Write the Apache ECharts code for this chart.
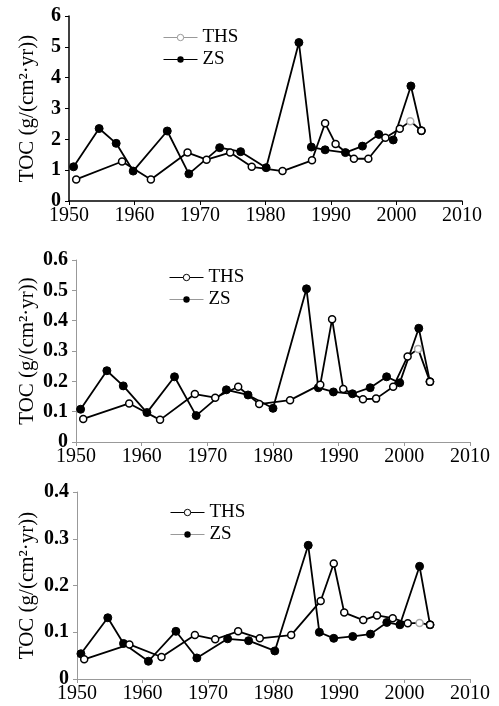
<!DOCTYPE html>
<html>
<head>
<meta charset="utf-8">
<script src="https://cdn.jsdelivr.net/npm/echarts@6/dist/echarts.min.js"></script>
<style>
  html, body { margin: 0; padding: 0; background: #fff; }
  #main { width: 499px; height: 706px; }
</style>
</head>
<body>
<div id="main"></div>
<script>
// panel 1 (top)
var thsYears1 = [1951.1, 1958.1, 1962.5, 1968.1, 1971.0, 1974.6, 1977.9, 1982.6, 1987.1, 1989.1, 1990.7, 1993.5, 1995.7, 1998.3, 2000.5, 2002.1, 2003.8];
var thsVals1  = [0.70, 1.28, 0.70, 1.57, 1.34, 1.57, 1.11, 0.97, 1.32, 2.52, 1.85, 1.37, 1.37, 2.05, 2.34, 2.59, 2.28];
var zsYears1  = [1950.7, 1954.6, 1957.2, 1959.8, 1965.0, 1968.3, 1973.0, 1976.2, 1980.1, 1985.1, 1987.0, 1989.1, 1992.2, 1994.8, 1997.3, 1999.5, 2002.2, 2003.8];
var zsVals1   = [1.11, 2.35, 1.87, 0.97, 2.27, 0.88, 1.73, 1.60, 1.08, 5.14, 1.75, 1.66, 1.57, 1.78, 2.16, 1.98, 3.73, 2.28];

// panel 2 (middle)
var thsYears2 = [1951.1, 1958.1, 1962.8, 1968.1, 1971.2, 1974.7, 1977.9, 1982.6, 1987.2, 1989.0, 1990.7, 1993.7, 1995.7, 1998.3, 2000.5, 2002.1, 2003.9];
var thsVals2  = [0.076, 0.127, 0.073, 0.158, 0.146, 0.182, 0.125, 0.138, 0.189, 0.405, 0.175, 0.141, 0.143, 0.182, 0.282, 0.307, 0.199];
var zsYears2  = [1950.7, 1954.7, 1957.2, 1960.8, 1965.0, 1968.3, 1972.9, 1976.2, 1980.0, 1985.1, 1986.9, 1989.2, 1992.1, 1994.8, 1997.3, 1999.3, 2002.2, 2003.9];
var zsVals2   = [0.108, 0.235, 0.185, 0.097, 0.215, 0.087, 0.172, 0.155, 0.111, 0.505, 0.179, 0.165, 0.159, 0.179, 0.215, 0.195, 0.375, 0.199];

// panel 3 (bottom)
var thsYears3 = [1951.1, 1958.0, 1962.9, 1968.0, 1971.1, 1974.6, 1977.9, 1982.7, 1987.2, 1989.2, 1990.8, 1993.7, 1995.8, 1998.2, 2000.5, 2002.3, 2003.9];
var thsVals3  = [0.042, 0.074, 0.047, 0.094, 0.085, 0.102, 0.087, 0.094, 0.167, 0.247, 0.142, 0.126, 0.136, 0.130, 0.119, 0.120, 0.116];
var zsYears3  = [1950.6, 1954.7, 1957.1, 1960.9, 1965.1, 1968.3, 1973.0, 1976.2, 1980.2, 1985.3, 1987.0, 1989.2, 1992.1, 1994.8, 1997.3, 1999.3, 2002.3, 2003.9];
var zsVals3   = [0.054, 0.131, 0.076, 0.038, 0.102, 0.045, 0.086, 0.082, 0.060, 0.286, 0.100, 0.087, 0.091, 0.096, 0.121, 0.116, 0.241, 0.116];

var yMax = [6, 0.6, 0.4];
var greyIdx = 15; // THS 2002 marker drawn grey

var font = 'Liberation Serif';
var yTitle = 'TOC (g/(cm\u00b2\u00b7yr))';

function pairs(xs, ys, grey) {
  return xs.map(function (x, i) {
    var d = { value: [x, ys[i]] };
    if (grey && i === greyIdx) d.itemStyle = { borderColor: '#aaa' };
    return d;
  });
}

var chart = echarts.init(document.getElementById('main'));

var grids = [
  { left: 69, top: 16, width: 393, height: 185 },
  { left: 76, top: 260, width: 394, height: 182 },
  { left: 77, top: 492, width: 393, height: 187 }
];
var axisCol = ['#000', '#999', '#999'];
var nameGaps = [31, 38, 39];

var xAxes = [], yAxes = [], series = [], legends = [];
var ths = [[thsYears1, thsVals1], [thsYears2, thsVals2], [thsYears3, thsVals3]];
var zs = [[zsYears1, zsVals1], [zsYears2, zsVals2], [zsYears3, zsVals3]];
var legendPos = [[158, 23], [164, 263], [165, 498]];
var sfx = ['_a', '_b', '_c'];

for (var p = 0; p < 3; p++) {
  xAxes.push({
    type: 'value', gridIndex: p, min: 1950, max: 2010, interval: 10,
    splitLine: { show: false },
    axisLine: { lineStyle: { color: axisCol[p], width: p === 0 ? 1.5 : 1 } },
    axisTick: { length: 4, lineStyle: { color: axisCol[p] } },
    axisLabel: { color: '#000', fontFamily: font, fontSize: 20, margin: 5,
      formatter: function (v) { return String(v); } }
  });
  yAxes.push({
    type: 'value', gridIndex: p, min: 0, max: yMax[p], interval: yMax[p] === 6 ? 1 : 0.1,
    splitLine: { show: false },
    axisLine: { show: true, lineStyle: { color: axisCol[p], width: p === 0 ? 1.5 : 1 } },
    axisTick: { show: true, length: 4, lineStyle: { color: axisCol[p] } },
    axisLabel: { color: '#000', fontFamily: font, fontSize: 20, fontWeight: 'bold', margin: 8 },
    name: yTitle, nameLocation: 'middle', nameGap: nameGaps[p], nameRotate: 90,
    nameMoveOverlap: false,
    nameTextStyle: { color: '#000', fontFamily: font, fontSize: 21 }
  });
  series.push({
    name: 'ZS' + sfx[p], type: 'line', xAxisIndex: p, yAxisIndex: p,
    symbol: 'circle', symbolSize: 8,
    lineStyle: { color: '#000', width: 1.8 },
    itemStyle: { color: '#000', borderColor: '#000' },
    data: pairs(zs[p][0], zs[p][1], false), z: 2
  });
  series.push({
    name: 'THS' + sfx[p], type: 'line', xAxisIndex: p, yAxisIndex: p,
    symbol: 'circle', symbolSize: 7,
    lineStyle: { color: '#000', width: 1.8 },
    itemStyle: { color: '#fff', borderColor: '#000', borderWidth: 1.5 },
    data: pairs(ths[p][0], ths[p][1], true), z: 3
  });
  var thsLeg = p === 0 ? '#999' : '#000';
  var zsLeg = p === 0 ? '#000' : '#999';
  legends.push({
    orient: 'vertical', left: legendPos[p][0], top: legendPos[p][1],
    itemWidth: 34, itemHeight: 8, itemGap: 3,
    textStyle: { color: '#000', fontFamily: font, fontSize: 19 },
    formatter: function (n) { return n.split('_')[0]; },
    selectedMode: false,
    data: [
      { name: 'THS' + sfx[p], lineStyle: { color: thsLeg, width: 1 }, itemStyle: { color: '#fff', borderColor: thsLeg, borderWidth: 1 } },
      { name: 'ZS' + sfx[p], lineStyle: { color: zsLeg, width: 1 }, itemStyle: { color: '#000', borderColor: '#000' } }
    ]
  });
}

var option = {
  backgroundColor: '#fff',
  animation: false,
  grid: grids,
  xAxis: xAxes,
  yAxis: yAxes,
  legend: legends,
  series: series
};
chart.setOption(option);
</script>
</body>
</html>
